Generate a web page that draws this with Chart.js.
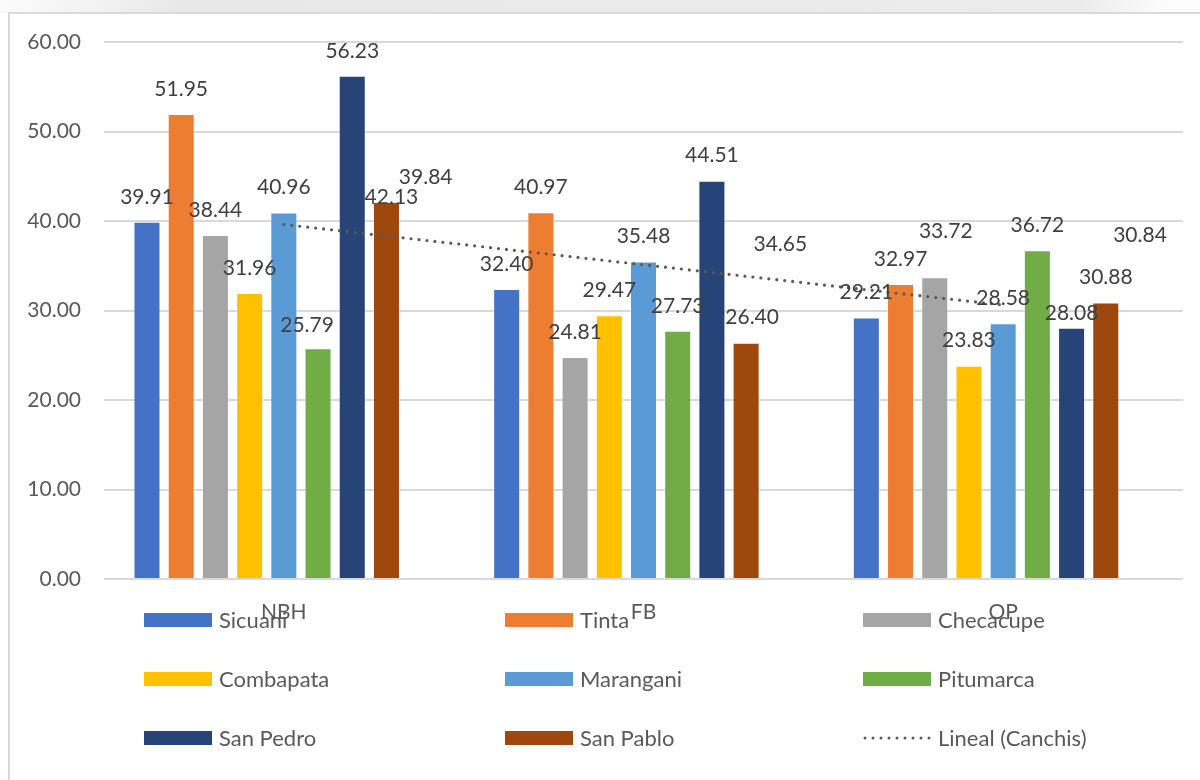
<!DOCTYPE html>
<html>
<head>
<meta charset="utf-8">
<script src="https://cdn.jsdelivr.net/npm/chart.js@4.4.1/dist/chart.umd.min.js"></script>
<style>
  html, body { margin: 0; padding: 0; background: #ffffff; }
  #wrap { position: relative; width: 1200px; height: 780px; }
  canvas { display: block; }
</style>
</head>
<body>
<div id="wrap"><canvas id="c" width="1200" height="780"></canvas></div>
<script>
// ---- data ----
const categories = ['NBH', 'FB', 'OP'];
const seriesNames = ['Sicuani', 'Tinta', 'Checacupe', 'Combapata', 'Marangani', 'Pitumarca', 'San Pedro', 'San Pablo'];
const sicuani   = [39.91, 32.40, 29.21];
const tinta     = [51.95, 40.97, 32.97];
const checacupe = [38.44, 24.81, 33.72];
const combapata = [31.96, 29.47, 23.83];
const marangani = [40.96, 35.48, 28.58];
const pitumarca = [25.79, 27.73, 36.72];
const sanPedro  = [56.23, 44.51, 28.08];
const sanPablo  = [42.13, 26.40, 30.88];
const canchis   = [39.84, 34.65, 30.84];
const trendCanchis = [39.61, 35.11, 30.61]; // read from the dotted "Lineal (Canchis)" line
const yTicks = [0, 10, 20, 30, 40, 50, 60];

// ---- styles ----
const colors = ['#4472C4', '#ED7D31', '#A5A5A5', '#FFC000', '#5B9BD5', '#70AD47', '#264478', '#9E480E'];
const FONT = 'Lato, "Open Sans", sans-serif';
// per-label nudges (pixels) relative to default placement above the bar
const labelNudge = {
  'Pitumarca|0': [-11, 2],
  'San Pablo|0': [5, 20],
  'Canchis|0': [5, -20],
  'San Pablo|1': [6, 0],
  'Checacupe|2': [11, -21],
  'San Pedro|2': [0, 11],
  'Canchis|2': [0, -43]
};

const seriesData = [sicuani, tinta, checacupe, combapata, marangani, pitumarca, sanPedro, sanPablo];
const datasets = seriesData.map((d, i) => ({
  type: 'bar', label: seriesNames[i], data: d, backgroundColor: colors[i],
  borderColor: 'rgba(255,255,255,0.35)', borderWidth: 1, order: 2
}));
datasets.push({ type: 'bar', label: 'Canchis', data: canchis, backgroundColor: 'rgba(0,0,0,0)', order: 2, hideLegend: true });
datasets.push({
  type: 'line', label: 'Lineal (Canchis)', data: trendCanchis, borderColor: '#595959',
  borderWidth: 3.2, borderDash: [0, 8], borderCapStyle: 'round', pointRadius: 0, fill: false,
  tension: 0, order: 0, isTrend: true
});

const frame = {
  id: 'frame',
  beforeDraw(chart) {
    const ctx = chart.ctx;
    ctx.save();
    const g = ctx.createLinearGradient(0, 0, 1200, 0);
    g.addColorStop(0, 'rgba(240,240,240,0.3)');
    g.addColorStop(0.15, 'rgba(232,232,232,1)');
    g.addColorStop(0.9, 'rgba(236,236,236,1)');
    g.addColorStop(0.97, 'rgba(252,252,252,1)');
    ctx.fillStyle = g;
    ctx.fillRect(0, 0, 1200, 13);
    ctx.strokeStyle = '#d9d9d9';
    ctx.lineWidth = 2;
    ctx.beginPath();
    ctx.moveTo(9, 780); ctx.lineTo(9, 13); ctx.lineTo(1200, 13);
    ctx.stroke();
    ctx.restore();
  }
};

const valueLabels = {
  id: 'valueLabels',
  afterDatasetsDraw(chart) {
    const ctx = chart.ctx;
    ctx.save();
    ctx.font = '21px ' + FONT;
    ctx.fillStyle = '#404040';
    ctx.textAlign = 'center';
    ctx.textBaseline = 'middle';
    chart.data.datasets.forEach((ds, di) => {
      if (ds.type !== 'bar') return;
      const meta = chart.getDatasetMeta(di);
      meta.data.forEach((bar, i) => {
        const n = labelNudge[ds.label + '|' + i] || [0, 0];
        ctx.fillText(ds.data[i].toFixed(2), bar.x + n[0], bar.y - 25 + n[1]);
      });
    });
    ctx.restore();
  }
};

const legendBox = {
  id: 'legendBox',
  afterDraw(chart) {
    const ctx = chart.ctx;
    const items = chart.data.datasets.filter(d => !d.hideLegend);
    const colX = [144, 505, 863];
    const rowY = [620, 679, 738];
    ctx.save();
    ctx.font = '22px ' + FONT;
    ctx.textBaseline = 'middle';
    ctx.textAlign = 'left';
    items.forEach((ds, k) => {
      const x = colX[k % 3], y = rowY[Math.floor(k / 3)];
      if (ds.isTrend) {
        ctx.strokeStyle = ds.borderColor;
        ctx.lineWidth = 3;
        ctx.lineCap = 'round';
        ctx.setLineDash([0, 8]);
        ctx.beginPath(); ctx.moveTo(x + 2, y); ctx.lineTo(x + 68, y); ctx.stroke();
        ctx.setLineDash([]);
      } else {
        ctx.fillStyle = ds.backgroundColor;
        ctx.fillRect(x, y - 7, 68, 14);
      }
      ctx.fillStyle = '#595959';
      ctx.fillText(ds.label, x + 75, y + 1);
    });
    ctx.restore();
  }
};

new Chart(document.getElementById('c'), {
  data: { labels: categories, datasets },
  options: {
    responsive: false,
    devicePixelRatio: 1,
    animation: false,
    layout: { padding: { left: 0, top: 42, right: 17, bottom: 141 } },
    plugins: { legend: { display: false }, tooltip: { enabled: false } },
    datasets: { bar: { categoryPercentage: 0.856, barPercentage: 0.79, grouped: true } },
    scales: {
      x: {
        grid: { display: false, drawTicks: false },
        border: { display: false },
        ticks: { color: '#595959', font: { family: FONT, size: 21 }, padding: 21 },
        afterFit(s) { s.height = 60; }
      },
      y: {
        min: 0, max: 60,
        afterBuildTicks(s) { s.ticks = yTicks.map(v => ({ value: v })); },
        grid: { color: '#d9d9d9', lineWidth: 2, drawTicks: false },
        border: { display: false },
        ticks: { color: '#595959', font: { family: FONT, size: 21 }, padding: 23,
                 callback: v => Number(v).toFixed(2) },
        afterFit(s) { s.width = 104; }
      }
    }
  },
  plugins: [frame, valueLabels, legendBox]
});
</script>
</body>
</html>
